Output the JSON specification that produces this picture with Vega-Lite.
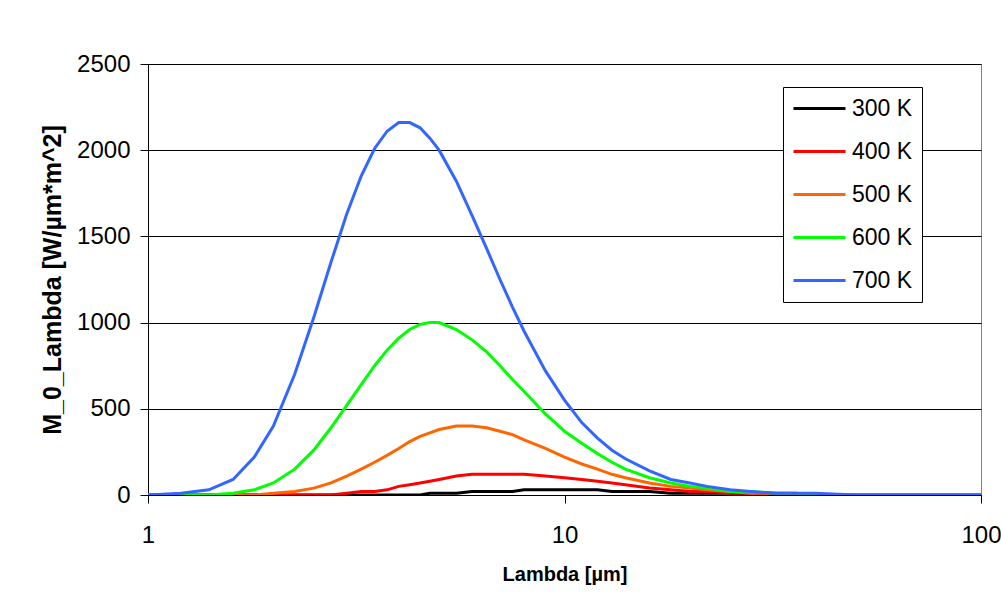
{
  "$schema": "https://vega.github.io/schema/vega-lite/v6.json",
  "width": 833,
  "height": 431,
  "autosize": {"type": "none"},
  "padding": {"left": 148, "top": 64, "right": 20, "bottom": 119},
  "background": "white",
  "datasets": {
    "planck": [
      {"lambda": 1, "T": "300 K", "M": 0}, {"lambda": 1.2, "T": "300 K", "M": 0}, {"lambda": 1.4, "T": "300 K", "M": 0}, {"lambda": 1.6, "T": "300 K", "M": 0}, {"lambda": 1.8, "T": "300 K", "M": 0}, {"lambda": 2, "T": "300 K", "M": 0}, {"lambda": 2.25, "T": "300 K", "M": 0}, {"lambda": 2.5, "T": "300 K", "M": 0}, {"lambda": 2.75, "T": "300 K", "M": 0}, {"lambda": 3, "T": "300 K", "M": 0}, {"lambda": 3.25, "T": "300 K", "M": 0}, {"lambda": 3.5, "T": "300 K", "M": 0}, {"lambda": 3.75, "T": "300 K", "M": 0}, {"lambda": 4, "T": "300 K", "M": 0}, {"lambda": 4.25, "T": "300 K", "M": 0}, {"lambda": 4.5, "T": "300 K", "M": 0}, {"lambda": 4.75, "T": "300 K", "M": 10}, {"lambda": 5, "T": "300 K", "M": 10}, {"lambda": 5.5, "T": "300 K", "M": 10}, {"lambda": 6, "T": "300 K", "M": 20}, {"lambda": 6.5, "T": "300 K", "M": 20}, {"lambda": 7, "T": "300 K", "M": 20}, {"lambda": 7.5, "T": "300 K", "M": 20}, {"lambda": 8, "T": "300 K", "M": 30}, {"lambda": 9, "T": "300 K", "M": 30}, {"lambda": 10, "T": "300 K", "M": 30}, {"lambda": 11, "T": "300 K", "M": 30}, {"lambda": 12, "T": "300 K", "M": 30}, {"lambda": 13, "T": "300 K", "M": 20}, {"lambda": 14, "T": "300 K", "M": 20}, {"lambda": 16, "T": "300 K", "M": 20}, {"lambda": 18, "T": "300 K", "M": 10}, {"lambda": 20, "T": "300 K", "M": 10}, {"lambda": 22, "T": "300 K", "M": 10}, {"lambda": 25, "T": "300 K", "M": 10}, {"lambda": 28, "T": "300 K", "M": 0}, {"lambda": 32, "T": "300 K", "M": 0}, {"lambda": 36, "T": "300 K", "M": 0}, {"lambda": 40, "T": "300 K", "M": 0}, {"lambda": 50, "T": "300 K", "M": 0}, {"lambda": 60, "T": "300 K", "M": 0}, {"lambda": 70, "T": "300 K", "M": 0}, {"lambda": 80, "T": "300 K", "M": 0}, {"lambda": 90, "T": "300 K", "M": 0}, {"lambda": 100, "T": "300 K", "M": 0},
      {"lambda": 1, "T": "400 K", "M": 0}, {"lambda": 1.2, "T": "400 K", "M": 0}, {"lambda": 1.4, "T": "400 K", "M": 0}, {"lambda": 1.6, "T": "400 K", "M": 0}, {"lambda": 1.8, "T": "400 K", "M": 0}, {"lambda": 2, "T": "400 K", "M": 0}, {"lambda": 2.25, "T": "400 K", "M": 0}, {"lambda": 2.5, "T": "400 K", "M": 0}, {"lambda": 2.75, "T": "400 K", "M": 0}, {"lambda": 3, "T": "400 K", "M": 10}, {"lambda": 3.25, "T": "400 K", "M": 20}, {"lambda": 3.5, "T": "400 K", "M": 20}, {"lambda": 3.75, "T": "400 K", "M": 30}, {"lambda": 4, "T": "400 K", "M": 50}, {"lambda": 4.25, "T": "400 K", "M": 60}, {"lambda": 4.5, "T": "400 K", "M": 70}, {"lambda": 4.75, "T": "400 K", "M": 80}, {"lambda": 5, "T": "400 K", "M": 90}, {"lambda": 5.5, "T": "400 K", "M": 110}, {"lambda": 6, "T": "400 K", "M": 120}, {"lambda": 6.5, "T": "400 K", "M": 120}, {"lambda": 7, "T": "400 K", "M": 120}, {"lambda": 7.5, "T": "400 K", "M": 120}, {"lambda": 8, "T": "400 K", "M": 120}, {"lambda": 9, "T": "400 K", "M": 110}, {"lambda": 10, "T": "400 K", "M": 100}, {"lambda": 11, "T": "400 K", "M": 90}, {"lambda": 12, "T": "400 K", "M": 80}, {"lambda": 13, "T": "400 K", "M": 70}, {"lambda": 14, "T": "400 K", "M": 60}, {"lambda": 16, "T": "400 K", "M": 40}, {"lambda": 18, "T": "400 K", "M": 30}, {"lambda": 20, "T": "400 K", "M": 20}, {"lambda": 22, "T": "400 K", "M": 20}, {"lambda": 25, "T": "400 K", "M": 10}, {"lambda": 28, "T": "400 K", "M": 10}, {"lambda": 32, "T": "400 K", "M": 10}, {"lambda": 36, "T": "400 K", "M": 0}, {"lambda": 40, "T": "400 K", "M": 0}, {"lambda": 50, "T": "400 K", "M": 0}, {"lambda": 60, "T": "400 K", "M": 0}, {"lambda": 70, "T": "400 K", "M": 0}, {"lambda": 80, "T": "400 K", "M": 0}, {"lambda": 90, "T": "400 K", "M": 0}, {"lambda": 100, "T": "400 K", "M": 0},
      {"lambda": 1, "T": "500 K", "M": 0}, {"lambda": 1.2, "T": "500 K", "M": 0}, {"lambda": 1.4, "T": "500 K", "M": 0}, {"lambda": 1.6, "T": "500 K", "M": 0}, {"lambda": 1.8, "T": "500 K", "M": 0}, {"lambda": 2, "T": "500 K", "M": 10}, {"lambda": 2.25, "T": "500 K", "M": 20}, {"lambda": 2.5, "T": "500 K", "M": 40}, {"lambda": 2.75, "T": "500 K", "M": 70}, {"lambda": 3, "T": "500 K", "M": 110}, {"lambda": 3.25, "T": "500 K", "M": 150}, {"lambda": 3.5, "T": "500 K", "M": 190}, {"lambda": 3.75, "T": "500 K", "M": 230}, {"lambda": 4, "T": "500 K", "M": 270}, {"lambda": 4.25, "T": "500 K", "M": 310}, {"lambda": 4.5, "T": "500 K", "M": 340}, {"lambda": 4.75, "T": "500 K", "M": 360}, {"lambda": 5, "T": "500 K", "M": 380}, {"lambda": 5.5, "T": "500 K", "M": 400}, {"lambda": 6, "T": "500 K", "M": 400}, {"lambda": 6.5, "T": "500 K", "M": 390}, {"lambda": 7, "T": "500 K", "M": 370}, {"lambda": 7.5, "T": "500 K", "M": 350}, {"lambda": 8, "T": "500 K", "M": 320}, {"lambda": 9, "T": "500 K", "M": 270}, {"lambda": 10, "T": "500 K", "M": 220}, {"lambda": 11, "T": "500 K", "M": 180}, {"lambda": 12, "T": "500 K", "M": 150}, {"lambda": 13, "T": "500 K", "M": 120}, {"lambda": 14, "T": "500 K", "M": 100}, {"lambda": 16, "T": "500 K", "M": 70}, {"lambda": 18, "T": "500 K", "M": 50}, {"lambda": 20, "T": "500 K", "M": 40}, {"lambda": 22, "T": "500 K", "M": 30}, {"lambda": 25, "T": "500 K", "M": 20}, {"lambda": 28, "T": "500 K", "M": 10}, {"lambda": 32, "T": "500 K", "M": 10}, {"lambda": 36, "T": "500 K", "M": 10}, {"lambda": 40, "T": "500 K", "M": 0}, {"lambda": 50, "T": "500 K", "M": 0}, {"lambda": 60, "T": "500 K", "M": 0}, {"lambda": 70, "T": "500 K", "M": 0}, {"lambda": 80, "T": "500 K", "M": 0}, {"lambda": 90, "T": "500 K", "M": 0}, {"lambda": 100, "T": "500 K", "M": 0},
      {"lambda": 1, "T": "600 K", "M": 0}, {"lambda": 1.2, "T": "600 K", "M": 0}, {"lambda": 1.4, "T": "600 K", "M": 0}, {"lambda": 1.6, "T": "600 K", "M": 10}, {"lambda": 1.8, "T": "600 K", "M": 30}, {"lambda": 2, "T": "600 K", "M": 70}, {"lambda": 2.25, "T": "600 K", "M": 150}, {"lambda": 2.5, "T": "600 K", "M": 260}, {"lambda": 2.75, "T": "600 K", "M": 390}, {"lambda": 3, "T": "600 K", "M": 520}, {"lambda": 3.25, "T": "600 K", "M": 640}, {"lambda": 3.5, "T": "600 K", "M": 750}, {"lambda": 3.75, "T": "600 K", "M": 840}, {"lambda": 4, "T": "600 K", "M": 910}, {"lambda": 4.25, "T": "600 K", "M": 960}, {"lambda": 4.5, "T": "600 K", "M": 990}, {"lambda": 4.75, "T": "600 K", "M": 1000}, {"lambda": 5, "T": "600 K", "M": 1000}, {"lambda": 5.5, "T": "600 K", "M": 960}, {"lambda": 6, "T": "600 K", "M": 900}, {"lambda": 6.5, "T": "600 K", "M": 830}, {"lambda": 7, "T": "600 K", "M": 750}, {"lambda": 7.5, "T": "600 K", "M": 670}, {"lambda": 8, "T": "600 K", "M": 600}, {"lambda": 9, "T": "600 K", "M": 470}, {"lambda": 10, "T": "600 K", "M": 370}, {"lambda": 11, "T": "600 K", "M": 300}, {"lambda": 12, "T": "600 K", "M": 240}, {"lambda": 13, "T": "600 K", "M": 190}, {"lambda": 14, "T": "600 K", "M": 150}, {"lambda": 16, "T": "600 K", "M": 100}, {"lambda": 18, "T": "600 K", "M": 70}, {"lambda": 20, "T": "600 K", "M": 50}, {"lambda": 22, "T": "600 K", "M": 40}, {"lambda": 25, "T": "600 K", "M": 20}, {"lambda": 28, "T": "600 K", "M": 20}, {"lambda": 32, "T": "600 K", "M": 10}, {"lambda": 36, "T": "600 K", "M": 10}, {"lambda": 40, "T": "600 K", "M": 0}, {"lambda": 50, "T": "600 K", "M": 0}, {"lambda": 60, "T": "600 K", "M": 0}, {"lambda": 70, "T": "600 K", "M": 0}, {"lambda": 80, "T": "600 K", "M": 0}, {"lambda": 90, "T": "600 K", "M": 0}, {"lambda": 100, "T": "600 K", "M": 0},
      {"lambda": 1, "T": "700 K", "M": 0}, {"lambda": 1.2, "T": "700 K", "M": 10}, {"lambda": 1.4, "T": "700 K", "M": 30}, {"lambda": 1.6, "T": "700 K", "M": 90}, {"lambda": 1.8, "T": "700 K", "M": 220}, {"lambda": 2, "T": "700 K", "M": 400}, {"lambda": 2.25, "T": "700 K", "M": 700}, {"lambda": 2.5, "T": "700 K", "M": 1030}, {"lambda": 2.75, "T": "700 K", "M": 1350}, {"lambda": 3, "T": "700 K", "M": 1630}, {"lambda": 3.25, "T": "700 K", "M": 1850}, {"lambda": 3.5, "T": "700 K", "M": 2010}, {"lambda": 3.75, "T": "700 K", "M": 2110}, {"lambda": 4, "T": "700 K", "M": 2160}, {"lambda": 4.25, "T": "700 K", "M": 2160}, {"lambda": 4.5, "T": "700 K", "M": 2130}, {"lambda": 4.75, "T": "700 K", "M": 2070}, {"lambda": 5, "T": "700 K", "M": 2000}, {"lambda": 5.5, "T": "700 K", "M": 1820}, {"lambda": 6, "T": "700 K", "M": 1620}, {"lambda": 6.5, "T": "700 K", "M": 1430}, {"lambda": 7, "T": "700 K", "M": 1250}, {"lambda": 7.5, "T": "700 K", "M": 1090}, {"lambda": 8, "T": "700 K", "M": 950}, {"lambda": 9, "T": "700 K", "M": 720}, {"lambda": 10, "T": "700 K", "M": 550}, {"lambda": 11, "T": "700 K", "M": 420}, {"lambda": 12, "T": "700 K", "M": 330}, {"lambda": 13, "T": "700 K", "M": 260}, {"lambda": 14, "T": "700 K", "M": 210}, {"lambda": 16, "T": "700 K", "M": 140}, {"lambda": 18, "T": "700 K", "M": 90}, {"lambda": 20, "T": "700 K", "M": 70}, {"lambda": 22, "T": "700 K", "M": 50}, {"lambda": 25, "T": "700 K", "M": 30}, {"lambda": 28, "T": "700 K", "M": 20}, {"lambda": 32, "T": "700 K", "M": 10}, {"lambda": 36, "T": "700 K", "M": 10}, {"lambda": 40, "T": "700 K", "M": 10}, {"lambda": 50, "T": "700 K", "M": 0}, {"lambda": 60, "T": "700 K", "M": 0}, {"lambda": 70, "T": "700 K", "M": 0}, {"lambda": 80, "T": "700 K", "M": 0}, {"lambda": 90, "T": "700 K", "M": 0}, {"lambda": 100, "T": "700 K", "M": 0}
    ]
  },
  "data": {"name": "planck"},
  "mark": {"type": "line", "strokeWidth": 3, "clip": true},
  "encoding": {
    "x": {
      "field": "lambda", "type": "quantitative",
      "scale": {"type": "log", "domain": [1, 100]},
      "axis": {"values": [1, 10, 100], "format": "d", "title": "Lambda [µm]", "grid": false, "labelFlush": false}
    },
    "y": {
      "field": "M", "type": "quantitative",
      "scale": {"domain": [0, 2500]},
      "axis": {"values": [0, 500, 1000, 1500, 2000, 2500], "format": "d", "title": "M_0_Lambda [W/µm*m^2]", "grid": true}
    },
    "color": {
      "field": "T", "type": "nominal",
      "scale": {"domain": ["300 K", "400 K", "500 K", "600 K", "700 K"], "range": ["#000000", "#FF0000", "#FF6600", "#00FF00", "#3366FF"]},
      "legend": {
        "orient": "none", "legendX": 635, "legendY": 23, "title": null,
        "symbolType": "stroke", "symbolSize": 2704, "symbolStrokeWidth": 3,
        "clipHeight": 25,
        "labelFontSize": 23, "labelFont": "Liberation Sans", "labelColor": "black",
        "labelOffset": 5, "padding": 9, "rowPadding": 18,
        "strokeColor": "black", "fillColor": "white"
      }
    }
  },
  "config": {
    "view": {"stroke": "#808080", "strokeWidth": 1},
    "axis": {
      "labelFont": "Liberation Sans", "labelFontSize": 24, "labelColor": "black",
      "titleFont": "Liberation Sans", "titleFontWeight": "bold", "titleColor": "black",
      "domainColor": "black", "domainWidth": 1, "tickColor": "black", "tickSize": 8, "tickWidth": 1,
      "gridColor": "black", "gridOpacity": 1, "gridWidth": 1
    },
    "axisX": {"labelPadding": 20, "titlePadding": 17, "titleFontSize": 20},
    "axisY": {"labelPadding": 10, "titlePadding": 11, "titleFontSize": 25}
  }
}
